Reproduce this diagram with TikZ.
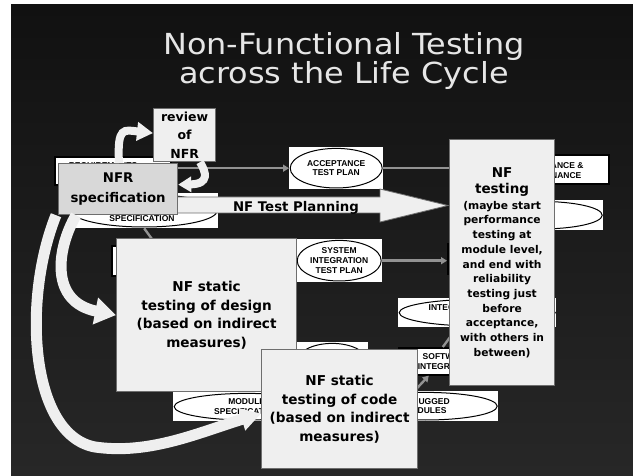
\documentclass[tikz,border=0pt]{standalone}
\usepackage{fontspec}
\setmainfont{DejaVu Sans}
\newfontfamily\labelfamily{Liberation Sans}
\usetikzlibrary{arrows.meta,calc}

\definecolor{bgtop}{HTML}{111111}
\definecolor{bgbot}{HTML}{272727}
\definecolor{paper}{HTML}{EFEFEF}
\definecolor{specfill}{HTML}{D8D8D8}
\definecolor{edge}{HTML}{6E6E6E}
\definecolor{vline}{HTML}{929292}
\definecolor{titlecol}{HTML}{E6E6E6}

\newcommand\headfont{\fontsize{29}{27}\selectfont}
\newcommand\boxtext{\fontsize{13.6}{18.7}\selectfont\bfseries}
\newcommand\bigtext{\fontsize{13.5}{17}\selectfont\bfseries}
\newcommand\vtextfont{\labelfamily\bfseries\fontsize{8.5}{9.7}\selectfont}

\tikzset{
  nfbox/.style={draw=edge, line width=1.2pt, fill=paper, inner sep=0pt,
    align=center, font=\boxtext, text=black, anchor=north west},
  vbox/.style={draw=black, line width=1.6pt, fill=white, inner sep=0pt,
    anchor=north west, align=center, font=\vtextfont},
  vell/.style={rectangle, fill=white, inner sep=0pt, align=center,
    font=\vtextfont, text=black, anchor=north west,
    path picture={\draw[line width=1pt]
      let \p1=(path picture bounding box.north east),
          \p2=(path picture bounding box.south west) in
      ($(\p1)!0.5!(\p2)$) ellipse [x radius={0.5*(\x1-\x2)-1pt},
                                   y radius={0.5*(\y1-\y2)-1.2pt}];}},
  vtext/.style={inner sep=0pt, align=center, font=\vtextfont, text=black},
  vconn/.style={draw=vline, line width=2.4pt},
  vtip/.style={-{Triangle[width=7pt,length=6pt]}},
  band/.style={draw=paper, line width=#1},
  plan/.style={fill=paper, draw=edge, line width=0.8pt},
}

\begin{document}
\begin{tikzpicture}[x=1pt,y=-1pt]
\useasboundingbox (0,0) rectangle (633,476);
\fill[white] (0,0) rectangle (633,476);
\shade[top color=bgtop, bottom color=bgbot] (11,5) rectangle (633,476);

% title
\begin{scope}[shift={(344,61)}, xscale=1.1, transform shape]
  \node[text=titlecol, font=\headfont, align=center, inner sep=0pt] (title) at (0,0)
    {Non-Functional Testing\\across the Life Cycle};
\end{scope}

% ---- V-model in the background ----
\node[vbox, minimum width=116pt, minimum height=28pt] (req) at (54,156) {};
\node[vtext] (reqtext) at (103,166.5) {REQUIREMENTS};
\node[vell, minimum width=148pt, minimum height=35pt] (spec) at (70,193) {};
\node[vtext] (spectext) at (142,219) {SPECIFICATION};
\node[vbox, minimum width=89pt, minimum height=30pt] (arch) at (111,245) {};
\draw[vconn] (spec.south) -- (arch.north);

\node[vell, minimum width=94pt, minimum height=42pt] (acc) at (289,147) {ACCEPTANCE\\TEST PLAN};
\node[vbox, minimum width=103pt, minimum height=29pt] (maint) at (505,154) {};
\node[vtext] (mainttext) at (550,170.5) {ACCEPTANCE \&\\MAINTENANCE};
\draw[vconn, vtip] (acc.west -| req.east) -- (acc.west);
\draw[vconn] (acc.east) -- (acc.east -| maint.west);

\node[vell, minimum width=126pt, minimum height=30pt] (sysell) at (477,200) {};

\node[vell, minimum width=86pt, minimum height=43pt] (sit) at (296,239) {SYSTEM\\INTEGRATION\\TEST PLAN};
\node[vbox, minimum width=73pt, minimum height=30pt] (systest) at (447,243) {};
\draw[vconn, vtip] (sit.east) -- (sit.east -| systest.west);

\node[vell, minimum width=158pt, minimum height=29pt] (integ) at (398,298) {};
\node[vtext] (integtext) at (456,308) {INTEGRATED};
\node[vell, minimum width=72pt, minimum height=38pt] (codeell) at (296,342) {};
\node[vbox, minimum width=96pt, minimum height=27pt] (soft) at (398,347) {SOFTWARE\\INTEGRATION};
\node[vell, minimum width=147pt, minimum height=29pt] (modspec) at (173,392) {MODULE\\SPECIFICATION};
\node[vell, minimum width=146pt, minimum height=30pt] (debug) at (352,391) {DEBUGGED\\MODULES};
\draw[vconn, vtip] ([xshift=-8pt,yshift=3pt]debug.north) -- ([xshift=-18pt]soft.south);
\draw[vconn] ([xshift=-4pt]soft.north) -- ([xshift=-20pt]integ.south);

% ---- NF test planning block arrow ----
\filldraw[plan] (150,197) -- (380,197) -- (380,189) -- (448,205.5)
  -- (380,222) -- (380,213) -- (150,213) -- cycle;
\node[font=\fontsize{13.3}{16}\selectfont\bfseries, inner sep=0pt, anchor=base] (plantext)
  at (296,211.5) {NF Test Planning};

% ---- non-functional activities ----
\node[nfbox, minimum width=180pt, minimum height=153pt] (design) at (116,238)
  {NF static\\testing of design\\(based on indirect\\measures)};
\node[nfbox, minimum width=105pt, minimum height=246pt,
      font=\fontsize{10.7}{14.7}\selectfont\bfseries] (nftest) at (449,139)
  {\bigtext NF\\[1.5pt] \bigtext testing\\[1pt]
   (maybe start\\ performance\\ testing at\\
   module level,\\ and end with\\ reliability\\ testing just\\ before\\
   acceptance,\\ with others in\\ between)};
\node[nfbox, minimum width=156pt, minimum height=119pt] (code) at (261,349)
  {NF static\\testing of code\\(based on indirect\\measures)};
\node[nfbox, fill=specfill, minimum width=119pt, minimum height=51pt,
      font=\fontsize{13.3}{20}\selectfont\bfseries] (nfr) at (58,163)
  {NFR\\specification};
\node[nfbox, minimum width=62pt, minimum height=53pt,
      font=\fontsize{12.5}{18.5}\selectfont\bfseries] (review) at (153,108)
  {review\\of\\NFR};

% ---- flow of the NF requirements ----
\draw[band=8, -{Triangle[width=18pt,length=16pt]}]
  ([xshift=61pt]nfr.north west) .. controls (117,126) and (124,130) .. ([yshift=2pt]review.west);
\draw[band=8, -{Triangle[width=15pt,length=13pt]}]
  ([xshift=47pt]review.south west) .. controls (206,172) and (210,184) .. ([yshift=4.5pt]nfr.east);
\draw[band=11, -{Triangle[width=26pt,length=21pt]}]
  ([xshift=18pt]nfr.south west) .. controls (56,250) and (50,302) .. (design.west);
\draw[band=11, -{Triangle[width=22pt,length=20pt]}]
  ([xshift=-2pt]nfr.south west) .. controls (22,300) and (30,435) .. (95,447)
  .. controls (150,455) and (200,432) .. ([yshift=-4.5pt]code.west);
\end{tikzpicture}
\end{document}
